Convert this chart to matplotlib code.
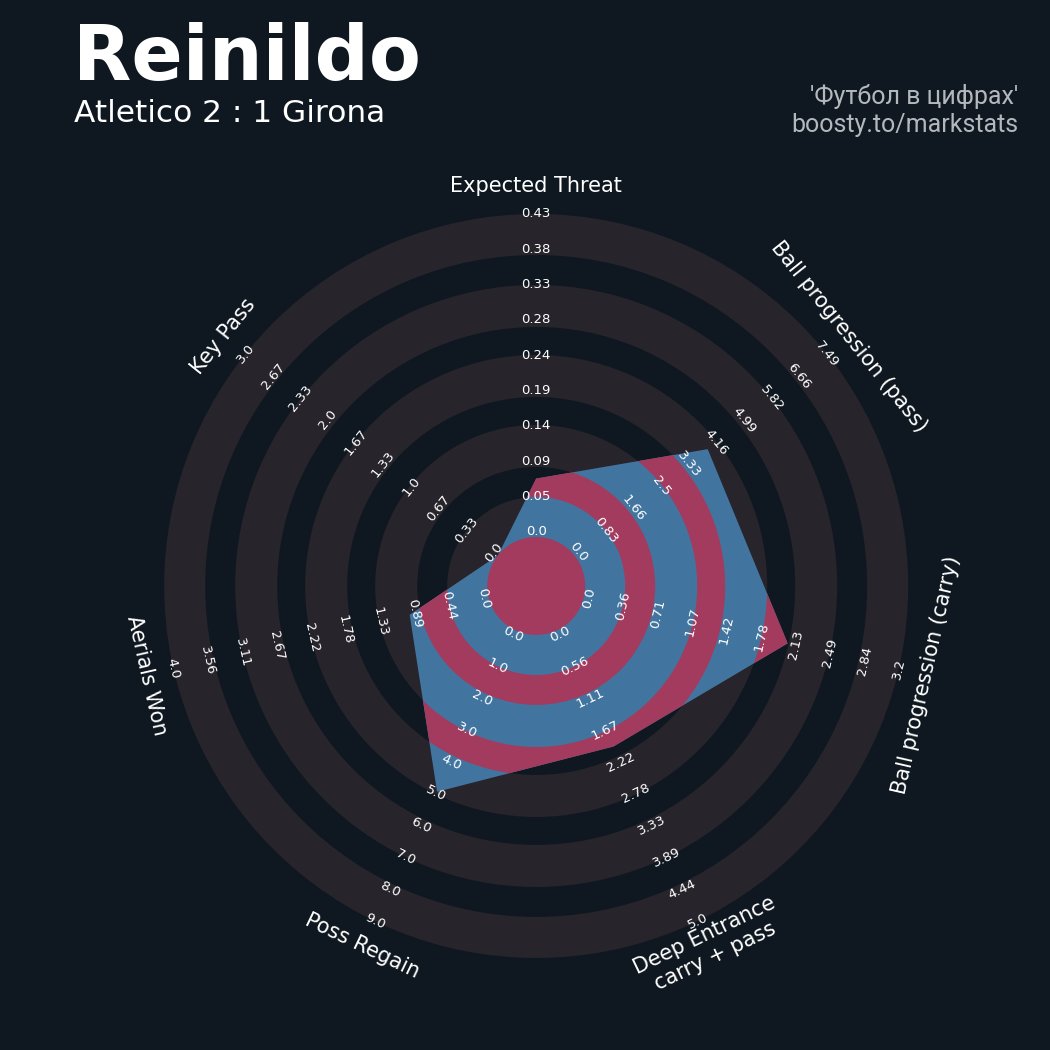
import numpy as np
import matplotlib.pyplot as plt
from matplotlib.patches import Polygon

# -------------------------
# DATA
# -------------------------
PARAMS = ["Expected Threat", "Ball progression (pass)", "Ball progression (carry)",
          "Deep Entrance\ncarry + pass", "Poss Regain", "Aerials Won", "Key Pass"]
LOW = [0.0, 0.0, 0.0, 0.0, 0.0, 0.0, 0.0]
HIGH = [0.426, 7.487, 3.2, 5.0, 9.0, 4.0, 3.0]
VALUES = [0.077, 3.95, 2.07, 2.0, 5.0, 1.0, 0.0]

TITLE = "Reinildo"
SUBTITLE = "Atletico 2 : 1 Girona"
CREDIT_1 = "'Футбол в цифрах'"
CREDIT_2 = "boosty.to/markstats"

# -------------------------
# STYLE
# -------------------------
BG = "#0f1820"
RING = "#28242b"
BLUE = "#41759f"
PINK = "#a33b5f"
CREDIT_COLOR = "#b3b8bd"

# radii in pixel units (axes spans -400..400)
CENTER_R = 49
OUTER_R = 372
EDGES = [49, 89, 119, 161, 189, 231, 259, 301, 331, 372]
LABEL_R = np.linspace(54, 372, 10)
PARAM_R = 400

fig = plt.figure(figsize=(10.5, 10.5), dpi=100, facecolor=BG)
ax = fig.add_axes([0.1297, 0.0610, 0.7619, 0.7619], projection="polar")
ax.set_theta_zero_location("N")
ax.set_theta_direction(-1)
ax.axis("off")

n = len(PARAMS)
theta = np.arange(n) * 2 * np.pi / n
low, high, vals = np.array(LOW), np.array(HIGH), np.array(VALUES)
radius = CENTER_R + (vals - low) / (high - low) * (OUTER_R - CENTER_R)

bounds = [0] + EDGES
# light background rings
for i in range(1, len(bounds) - 1, 2):
    ax.bar(0, bounds[i + 1] - bounds[i], width=2 * np.pi, bottom=bounds[i],
           color=RING, linewidth=0, zorder=1)

# radar polygon
poly = Polygon(np.column_stack([theta, radius]), closed=True, facecolor=BLUE,
               edgecolor="none", zorder=2, transform=ax.transData)
ax.add_patch(poly)

# pink rings inside the polygon
for i in range(0, len(bounds) - 1, 2):
    bars = ax.bar(0, bounds[i + 1] - bounds[i], width=2 * np.pi, bottom=bounds[i],
                  color=PINK, linewidth=0, zorder=3)
    for b in bars:
        b.set_clip_path(poly)

# labels
for i in range(n):
    rot = ((-np.degrees(theta[i]) + 180) % 360) - 180
    if rot < -90:
        rot += 180
    elif rot > 90:
        rot -= 180
    ticks = np.linspace(LOW[i], HIGH[i], 10)
    for j, t in enumerate(ticks):
        ax.text(theta[i], LABEL_R[j], f"{round(float(t), 2)}", rotation=rot,
                rotation_mode="anchor", ha="center", va="center",
                fontsize=9.5, color="white", zorder=5)
    ax.text(theta[i], PARAM_R, PARAMS[i], rotation=rot, rotation_mode="anchor",
            ha="center", va="center", multialignment="center",
            fontsize=15, color="white", zorder=5)

ax.set_rlim(0, 400)

# titles
fig.text(73 / 1050, 1 - 80 / 1050, TITLE, fontsize=54.5, fontweight="bold",
         color="white", va="baseline")
fig.text(73.5 / 1050, 1 - 122 / 1050, SUBTITLE, fontsize=22.5,
         color="white", va="baseline")
fig.text(1018 / 1050, 1 - 104 / 1050, CREDIT_1, fontsize=18, family="Roboto",
         color=CREDIT_COLOR, ha="right", va="baseline")
fig.text(1018 / 1050, 1 - 132 / 1050, CREDIT_2, fontsize=18, family="Roboto",
         color=CREDIT_COLOR, ha="right", va="baseline")

fig.savefig("out.png", dpi=100, facecolor=BG)
